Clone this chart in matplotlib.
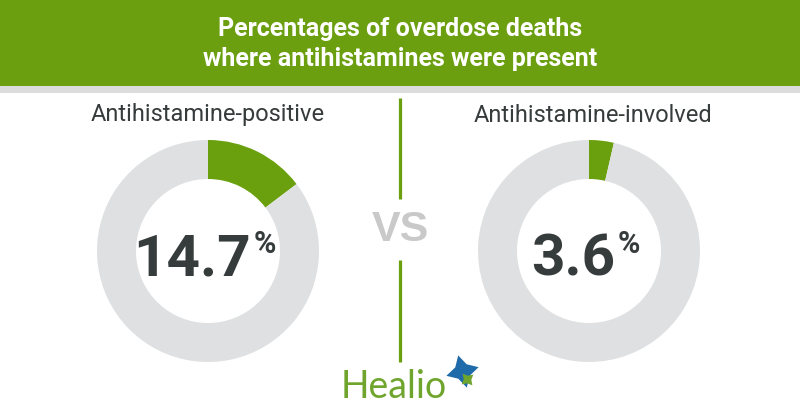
import matplotlib
matplotlib.use("Agg")
import matplotlib.pyplot as plt
from matplotlib.patches import Rectangle

# data
title = "Percentages of overdose deaths\nwhere antihistamines were present"
labels = ["Antihistamine-positive", "Antihistamine-involved"]
values = [14.7, 3.6]
value_text = ["14.7", "3.6"]

GREEN = "#6aa00e"
RING = "#dfe0e1"
DARK = "#363b3c"
BOLD = ["Roboto", "DejaVu Sans"]

fig = plt.figure(figsize=(8, 4.2), dpi=100)
ax = fig.add_axes([0, 0, 1, 1])
H = 420

# header band
ax.add_patch(Rectangle((0, H - 86), 800, 86, color="#6b9f10", lw=0))
ax.add_patch(Rectangle((0, H - 93), 800, 7, color="#dcdcdc", lw=0))
ax.text(400, H - 44, title, ha="center", va="center", color="white",
        fontsize=18, fontweight="bold", family=BOLD, linespacing=1.35)

centers = [(208, H - 251), (589, H - 251)]
label_x = [208, 593]
for i, v in enumerate(values):
    cx, cy = centers[i]
    ax.pie([v, 100 - v], colors=[GREEN, RING], startangle=90, counterclock=False,
           center=(cx, cy), radius=111, frame=True,
           wedgeprops=dict(width=39, linewidth=0))
    ax.text(label_x[i], H - 115, labels[i], ha="center", va="center",
            color=DARK, fontsize=17, family="Roboto")
    t = ax.text(cx - 16, cy - 24, value_text[i], ha="center", va="baseline",
                color=DARK, fontsize=42, fontweight="bold", family=BOLD)
    # put % top at cap height of the digits
    ax.annotate("%", xy=(1, 0), xycoords=t, xytext=(2, 42), textcoords="offset points",
                ha="left", va="top", color=DARK, fontsize=22, fontweight="bold",
                family=BOLD)

# divider and VS
ax.plot([400, 400], [H - 98, H - 199], color=GREEN, lw=2.3, solid_capstyle="butt")
ax.plot([400, 400], [H - 260, H - 362], color=GREEN, lw=2.3, solid_capstyle="butt")
ax.text(400, H - 230, "VS", ha="center", va="center", color="#c9c9c9",
        fontsize=31, fontweight="bold", family="Liberation Sans")

# logo
ax.text(341, H - 398, "Healio", ha="left", va="baseline", color="#6fa52d",
        fontsize=27, family="Lato")
ax.plot([462], [H - 371], marker=(4, 1, 15), ms=24, color="#1f6aa8", mew=0)
ax.plot([467], [H - 379], marker=(4, 1, 40), ms=11, color="#6fa52d", mew=0)

ax.set_xlim(0, 800)
ax.set_ylim(0, H)
ax.set_aspect("auto")
ax.axis("off")
fig.savefig("out.png", dpi=100, facecolor="white")
